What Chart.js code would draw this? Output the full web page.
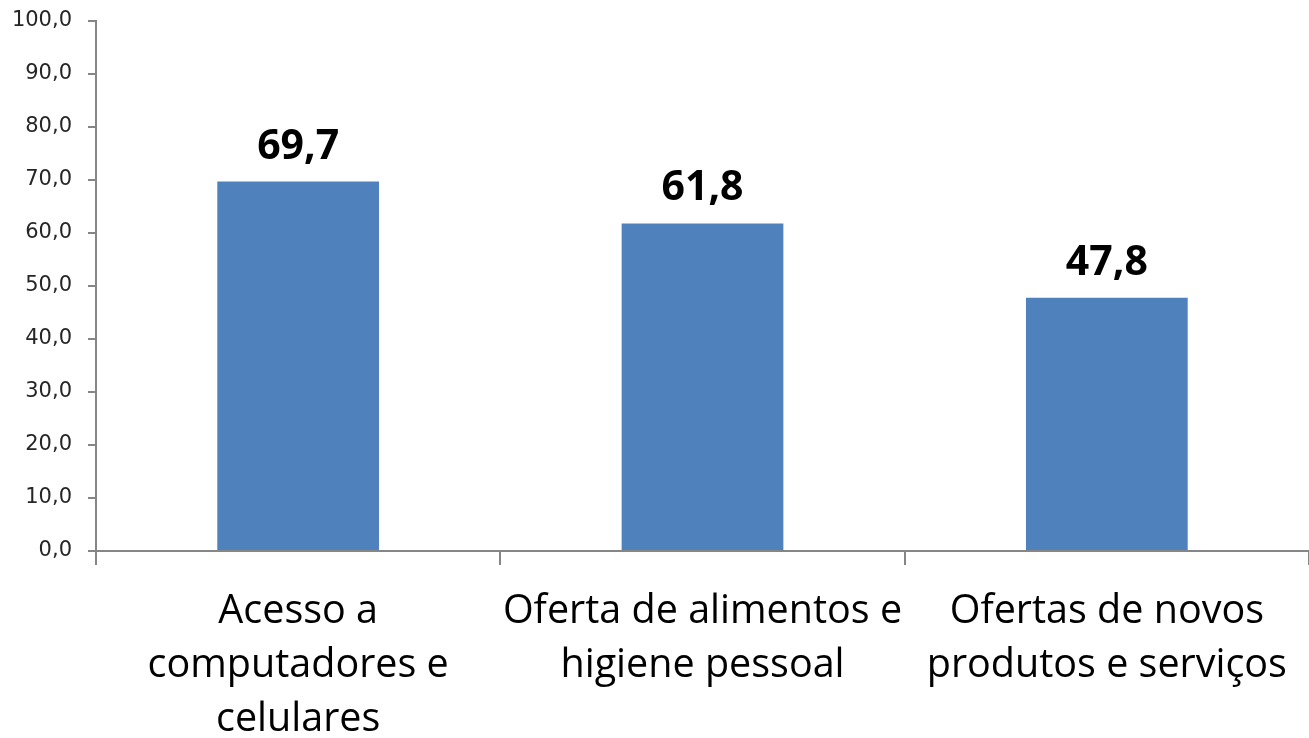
<!DOCTYPE html>
<html>
<head>
<meta charset="utf-8">
<script src="https://cdn.jsdelivr.net/npm/chart.js@4.4.0/dist/chart.umd.min.js"></script>
<style>
  html, body { margin: 0; padding: 0; background: #fff; }
  #wrap { width: 1309px; height: 738px; position: relative; }
</style>
</head>
<body>
<div id="wrap"><canvas id="grafico"></canvas></div>
<script>
const categorias = [
  ['Acesso a', 'computadores e', 'celulares'],
  ['Oferta de alimentos e', 'higiene pessoal'],
  ['Ofertas de novos', 'produtos e serviços']
];
const valores = [69.7, 61.8, 47.8];
const yMin = 0;
const yMax = 100;
const yPasso = 10;

function formatoBR(v, casas) {
  return v.toFixed(casas).replace('.', ',');
}

// rotulos em cima das barras
const rotulosBarras = {
  id: 'rotulosBarras',
  afterDatasetsDraw(chart) {
    const ctx = chart.ctx;
    const meta = chart.getDatasetMeta(0);
    ctx.save();
    ctx.font = 'bold 41px "Open Sans"';
    ctx.fillStyle = '#000';
    ctx.textAlign = 'center';
    ctx.textBaseline = 'alphabetic';
    meta.data.forEach(function(bar, i) {
      ctx.fillText(formatoBR(valores[i], 1), bar.x, bar.y - 23);
    });
    ctx.restore();
  }
};

const ctx2 = document.getElementById('grafico').getContext('2d');

new Chart(ctx2, {
  type: 'bar',
  data: {
    labels: categorias,
    datasets: [{
      data: valores,
      backgroundColor: '#4F81BD',
      borderWidth: 0,
      categoryPercentage: 1.0,
      barPercentage: 0.4
    }]
  },
  options: {
    responsive: true,
    maintainAspectRatio: false,
    animation: false,
    layout: { padding: { top: 21, right: 0, left: 0, bottom: 0 } },
    plugins: {
      legend: { display: false },
      tooltip: { enabled: false }
    },
    scales: {
      y: {
        min: yMin,
        max: yMax,
        ticks: {
          stepSize: yPasso,
          color: '#262626',
          padding: 16,
          font: { family: 'DejaVu Sans', size: 21 },
          callback: function(v) { return formatoBR(v, 1); }
        },
        grid: {
          drawOnChartArea: false,
          drawTicks: true,
          tickLength: 8,
          color: '#868686',
          lineWidth: 2
        },
        border: { display: true, color: '#868686', width: 2 },
        afterFit: function(scale) {
          scale.width = 96;
          scale.paddingTop = 0;
        }
      },
      x: {
        ticks: {
          color: '#000',
          padding: 20,
          maxRotation: 0,
          autoSkip: false,
          font: { family: 'Open Sans', size: 39.5, lineHeight: '54px' }
        },
        grid: {
          offset: true,
          drawOnChartArea: false,
          drawTicks: true,
          tickLength: 14,
          color: '#868686',
          lineWidth: 2
        },
        border: { display: true, color: '#868686', width: 2 },
        afterFit: function(scale) {
          scale.height = 187;
          scale.paddingTop = 0;
        }
      }
    }
  },
  plugins: [rotulosBarras]
});
</script>
</body>
</html>
